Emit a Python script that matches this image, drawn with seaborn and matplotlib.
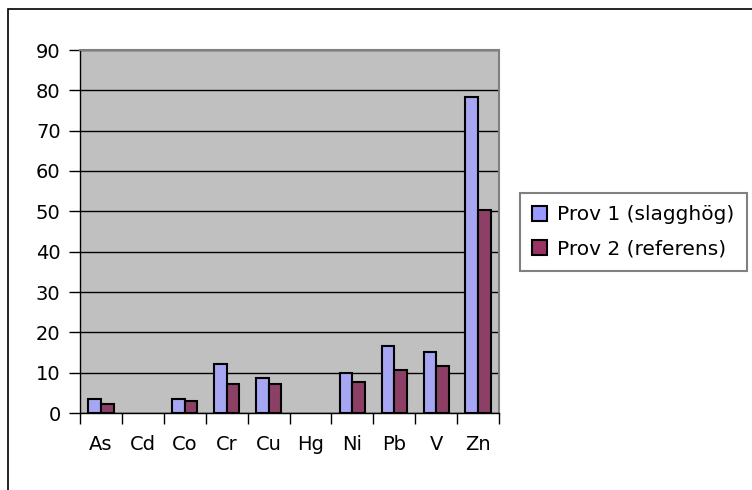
import matplotlib
matplotlib.use("Agg")
import matplotlib.pyplot as plt
import matplotlib.patches as mpatches
import seaborn as sns
import pandas as pd

elements = ["As", "Cd", "Co", "Cr", "Cu", "Hg", "Ni", "Pb", "V", "Zn"]
# Cd and Hg have no bars in the original (no value)
prov1 = [3.4, None, 3.5, 12.2, 8.8, None, 9.8, 16.6, 15.1, 78.4]
prov2 = [2.3, None, 2.9, 7.3, 7.3, None, 7.8, 10.7, 11.7, 50.3]
series = ["Prov 1 (slagghög)", "Prov 2 (referens)"]
colors = ["#9999FF", "#993366"]

df = pd.DataFrame({
    "element": elements * 2,
    "value": pd.to_numeric(prov1 + prov2),
    "serie": [series[0]] * len(elements) + [series[1]] * len(elements),
})

sns.set_style("white")
plt.rcParams["font.family"] = ["DejaVu Sans"]
plt.rcParams["text.color"] = "black"
plt.rcParams["xtick.color"] = "black"
plt.rcParams["ytick.color"] = "black"

fig = plt.figure(figsize=(7.52, 4.9), dpi=100)
ax = fig.add_axes([80 / 752, 1 - 413 / 490, 419 / 752, 363 / 490])
ax.set_facecolor("#C0C0C0")

sns.barplot(data=df, x="element", y="value", hue="serie", hue_order=series,
            order=elements, palette=colors, width=0.6, gap=0,
            edgecolor="black", linewidth=1.5, ax=ax, legend=False, zorder=3)

ax.set_ylim(0, 90)
ax.set_xlim(-0.5, len(elements) - 0.5)
ax.set_yticks(range(0, 91, 10))
ax.yaxis.grid(True, color="black", linewidth=1)
ax.xaxis.grid(False)
ax.set_axisbelow(True)
ax.set_xlabel("")
ax.set_ylabel("")

# ticks between categories, labels centred under each group
ax.set_xticks([i + 0.5 for i in range(-1, len(elements))])
ax.set_xticklabels([""] * (len(elements) + 1))
ax.set_xticks(range(len(elements)), minor=True)
ax.set_xticklabels(elements, minor=True, fontsize=14)
ax.tick_params(axis="x", which="major", bottom=True, direction="out", length=8, width=1, color="black")
ax.tick_params(axis="x", which="minor", bottom=False, length=0, pad=16, labelcolor="black")
ax.tick_params(axis="y", left=True, direction="out", length=8, width=1, color="black",
               labelsize=14, pad=6, labelcolor="black")

for side in ["top", "right"]:
    ax.spines[side].set_color("#808080")
    ax.spines[side].set_linewidth(1.5)
for side in ["left", "bottom"]:
    ax.spines[side].set_color("black")
    ax.spines[side].set_linewidth(1)

handles = [mpatches.Patch(facecolor=c, edgecolor="black", linewidth=1.5, label=s)
           for c, s in zip(colors, series)]
leg = fig.legend(handles=handles, loc="center left", bbox_to_anchor=(520 / 752, 1 - 232 / 490),
                 fontsize=14.5, frameon=True, fancybox=False, handlelength=0.75, handleheight=0.75,
                 handletextpad=0.5, borderpad=0.6, labelspacing=0.75, borderaxespad=0)
leg.get_frame().set_edgecolor("#606060")
leg.get_frame().set_linewidth(1.5)
for t in leg.get_texts():
    t.set_color("black")

# outer chart border (right/bottom edges fall outside the image)
fig.patches.append(mpatches.Rectangle((8 / 752, -0.1), 1.2, 1 - 9 / 490 + 0.1,
                                      transform=fig.transFigure, fill=False,
                                      edgecolor="black", linewidth=1.2))

plt.savefig("out.png", dpi=100)
plt.close()
